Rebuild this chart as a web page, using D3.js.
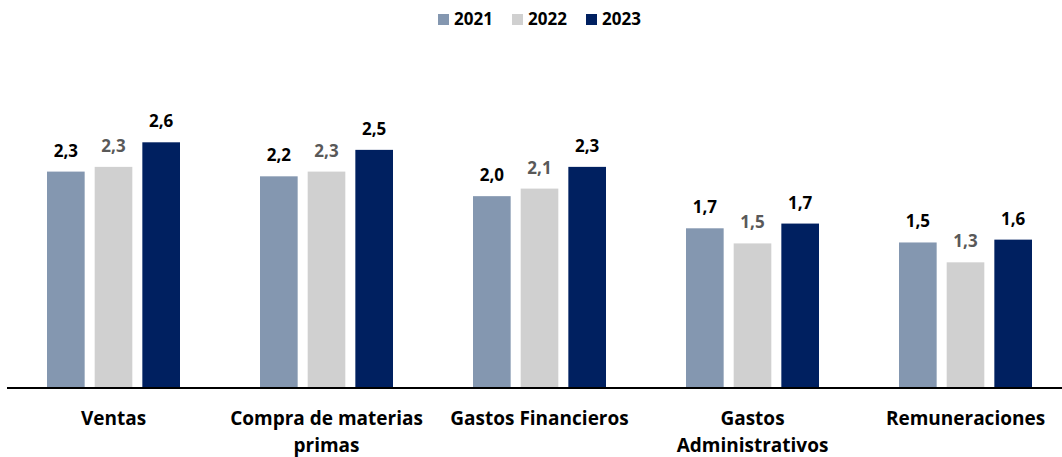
<!DOCTYPE html>
<html>
<head>
<meta charset="utf-8">
<script src="https://cdn.jsdelivr.net/npm/d3@7/dist/d3.min.js"></script>
<style>
  body { margin: 0; background: #fff; }
  svg { display: block; font-family: "Open Sans", Lato, sans-serif; }
</style>
</head>
<body>
<div id="chart"></div>
<script>
// categories and series
var categories = ["Ventas", "Compra de materias primas", "Gastos Financieros", "Gastos Administrativos", "Remuneraciones"];
var years = ["2021", "2022", "2023"];
var v2021 = [2.29, 2.24, 2.03, 1.69, 1.54];
var v2022 = [2.34, 2.29, 2.11, 1.53, 1.33];
var v2023 = [2.60, 2.52, 2.34, 1.74, 1.57];
var series = [v2021, v2022, v2023];

var colors = ["#8497B0", "#D0D0D0", "#002060"];
var labelColors = ["#000000", "#595959", "#000000"];

var width = 1062, height = 457;
var baseline = 388;

var svg = d3.select("#chart").append("svg")
    .attr("width", width)
    .attr("height", height);

// Set the ranges
var x = d3.scaleBand().domain(categories).range([7, 1072]).paddingInner(0).paddingOuter(0);
var inner = d3.scaleBand().domain(years).range([40, 173]).paddingInner(0.21);
var y = d3.scaleLinear().domain([0, 3]).range([baseline, 104.5]);

var fmt = function(d) { return d3.format(".1f")(d).replace(".", ","); };

var rows = categories.map(function(c, i) {
  return { cat: c, vals: years.map(function(yr, j) { return { year: yr, j: j, v: series[j][i] }; }) };
});

var groups = svg.selectAll("g.grp")
    .data(rows)
  .enter().append("g")
    .attr("class", "grp")
    .attr("transform", function(d) { return "translate(" + x(d.cat) + ",0)"; });

groups.selectAll("rect")
    .data(function(d) { return d.vals; })
  .enter().append("rect")
    .attr("x", function(d) { return inner(d.year); })
    .attr("width", inner.bandwidth())
    .attr("y", function(d) { return y(d.v); })
    .attr("height", function(d) { return baseline - y(d.v); })
    .attr("fill", function(d) { return colors[d.j]; });

groups.selectAll("text.val")
    .data(function(d) { return d.vals; })
  .enter().append("text")
    .attr("class", "val")
    .attr("x", function(d) { return inner(d.year) + inner.bandwidth() / 2; })
    .attr("y", function(d) { return y(d.v) - 15; })
    .attr("text-anchor", "middle")
    .attr("font-size", 17)
    .attr("font-weight", "bold")
    .attr("fill", function(d) { return labelColors[d.j]; })
    .text(function(d) { return fmt(d.v); });

// Add the X Axis
var xAxis = svg.append("g")
    .attr("class", "x axis")
    .attr("transform", "translate(0," + baseline + ")")
    .call(d3.axisBottom(x).tickSize(0).tickPadding(0));

xAxis.select(".domain").attr("stroke", "#000").attr("stroke-width", 2).attr("d", "M7,0H" + width);
xAxis.selectAll(".tick text")
    .attr("font-size", 19)
    .attr("font-weight", "bold")
    .attr("fill", "#000")
    .attr("font-family", "'Open Sans', Lato, sans-serif")
    .call(wrap, 205);

function wrap(texts, w) {
  texts.each(function() {
    var t = d3.select(this);
    var words = t.text().split(" ");
    t.text(null);
    var lines = [], line = [];
    var tmp = t.append("tspan");
    words.forEach(function(word) {
      line.push(word);
      tmp.text(line.join(" "));
      if (tmp.node().getComputedTextLength() > w && line.length > 1) {
        line.pop();
        lines.push(line.join(" "));
        line = [word];
      }
    });
    lines.push(line.join(" "));
    tmp.remove();
    lines.forEach(function(l, i) {
      t.append("tspan").attr("x", 0).attr("y", 37 + i * 27).attr("dy", 0).text(l);
    });
  });
}

// Legend
var legendX = [438, 512, 586];
var legend = svg.append("g").attr("class", "legend");
years.forEach(function(yr, j) {
  legend.append("rect")
      .attr("x", legendX[j]).attr("y", 14)
      .attr("width", 11).attr("height", 11)
      .attr("fill", colors[j]);
  legend.append("text")
      .attr("x", legendX[j] + 16).attr("y", 24.5)
      .attr("font-size", 17)
      .attr("font-weight", "bold")
      .attr("fill", "#000")
      .text(yr);
});
</script>
</body>
</html>
